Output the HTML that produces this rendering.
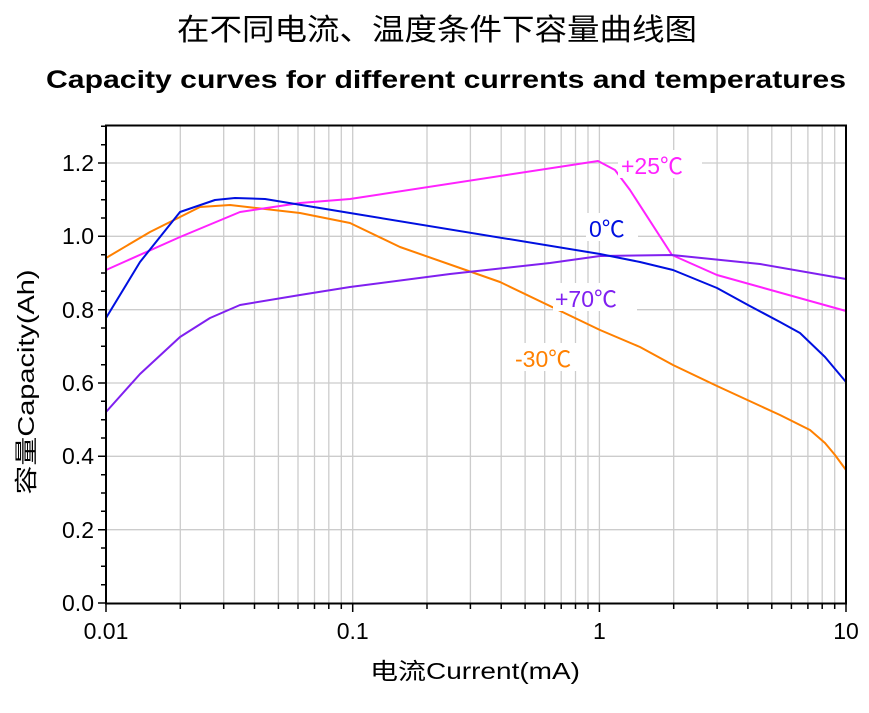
<!DOCTYPE html>
<html><head><meta charset="utf-8"><style>html,body{margin:0;padding:0;background:#fff}</style></head><body>
<svg width="869" height="708" viewBox="0 0 869 708" xmlns="http://www.w3.org/2000/svg" font-family="Liberation Sans, Noto Sans CJK SC, sans-serif">
<text x="437" y="40" font-size="30" text-anchor="middle" textLength="520" lengthAdjust="spacingAndGlyphs" font-family="Noto Sans CJK SC, sans-serif">在不同电流、温度条件下容量曲线图</text>
<text x="446" y="88" font-size="25" font-weight="bold" text-anchor="middle" textLength="800" lengthAdjust="spacingAndGlyphs">Capacity curves for different currents and temperatures</text>
<g stroke="#cccccc" stroke-width="1.3">
<path d="M180.3 126V603M223.7 126V603M254.5 126V603M278.4 126V603M298 126V603M314.5 126V603M328.8 126V603M341.3 126V603M352.7 126V603M427 126V603M470.4 126V603M501.2 126V603M525.1 126V603M544.7 126V603M561.2 126V603M575.5 126V603M588 126V603M599.4 126V603M673.7 126V603M717.1 126V603M747.9 126V603M771.8 126V603M791.4 126V603M807.9 126V603M822.2 126V603M834.7 126V603"/>
<path d="M106 529.7H846M106 456.3H846M106 383H846M106 309.7H846M106 236.3H846M106 163H846"/>
</g>
<g fill="none" stroke-width="2" stroke-linejoin="round">
<polyline stroke="#ff8000" points="106,258 150,232 200,207 230,205 300,213 350,223 400,247 460,268 500,282 600,330 640,347 673,365 717,386 780,415 810,430 825,443 835,455 846,470"/>
<polyline stroke="#ff22ff" points="106,270 180,237 240,212 300,203 350,199 598,161 615,170 630,190 672,255 717,275 846,311"/>
<polyline stroke="#8020f0" points="106,412 140,374 180,337 210,318 240,305 300,295 350,287 450,274 550,263 600,256 672,255 760,264 846,279"/>
<polyline stroke="#0010e0" points="106,318 140,262 180,212 215,200 235,198 265,199 350,213 600,254 640,262 673,270 717,288 748,305 780,322 800,333 825,357 846,382"/>
</g>
<g font-size="23">
<rect x="618" y="150" width="84" height="28" fill="#fff"/><text x="621" y="174" fill="#ff22ff">+25℃</text>
<rect x="586" y="213" width="52" height="28" fill="#fff"/><text x="589" y="237" fill="#0010e0">0℃</text>
<rect x="553" y="283" width="84" height="28" fill="#fff"/><text x="555" y="307" fill="#8020f0">+70℃</text>
<rect x="513" y="343" width="74" height="28" fill="#fff"/><text x="515" y="367" fill="#ff8000">-30℃</text>
</g>
<rect x="106" y="125.5" width="740" height="478" fill="none" stroke="#000" stroke-width="2"/>
<g stroke="#000" stroke-width="1.5">
<path d="M106 603H98M106 529.7H98M106 456.3H98M106 383H98M106 309.7H98M106 236.3H98M106 163H98"/>
<path d="M106 584.7H101M106 566.3H101M106 548H101M106 511.3H101M106 493H101M106 474.7H101M106 438H101M106 419.7H101M106 401.3H101M106 364.7H101M106 346.3H101M106 328H101M106 291.3H101M106 273H101M106 254.7H101M106 218H101M106 199.7H101M106 181.3H101M106 144.7H101M106 126.3H101"/>
<path d="M106 604V612M352.7 604V612M599.4 604V612M846 604V612"/>
<path d="M180.3 604V609M223.7 604V609M254.5 604V609M278.4 604V609M298 604V609M314.5 604V609M328.8 604V609M341.3 604V609M427 604V609M470.4 604V609M501.2 604V609M525.1 604V609M544.7 604V609M561.2 604V609M575.5 604V609M588 604V609M673.7 604V609M717.1 604V609M747.9 604V609M771.8 604V609M791.4 604V609M807.9 604V609M822.2 604V609M834.7 604V609"/>
</g>
<g font-size="23" text-anchor="end">
<text x="94" y="611">0.0</text><text x="94" y="538">0.2</text><text x="94" y="464">0.4</text><text x="94" y="391">0.6</text><text x="94" y="318">0.8</text><text x="94" y="244">1.0</text><text x="94" y="171">1.2</text>
</g>
<g font-size="23" text-anchor="middle">
<text x="106" y="639">0.01</text><text x="352.7" y="639">0.1</text><text x="599.4" y="639">1</text><text x="846" y="639">10</text>
<text x="475" y="679" textLength="210" lengthAdjust="spacingAndGlyphs" font-family="Liberation Sans, Noto Sans CJK SC, sans-serif">电流Current(mA)</text>
<text transform="translate(34,382) rotate(-90)" textLength="225" lengthAdjust="spacingAndGlyphs" font-family="Liberation Sans, Noto Sans CJK SC, sans-serif">容量Capacity(Ah)</text>
</g>
</svg>
</body></html>
